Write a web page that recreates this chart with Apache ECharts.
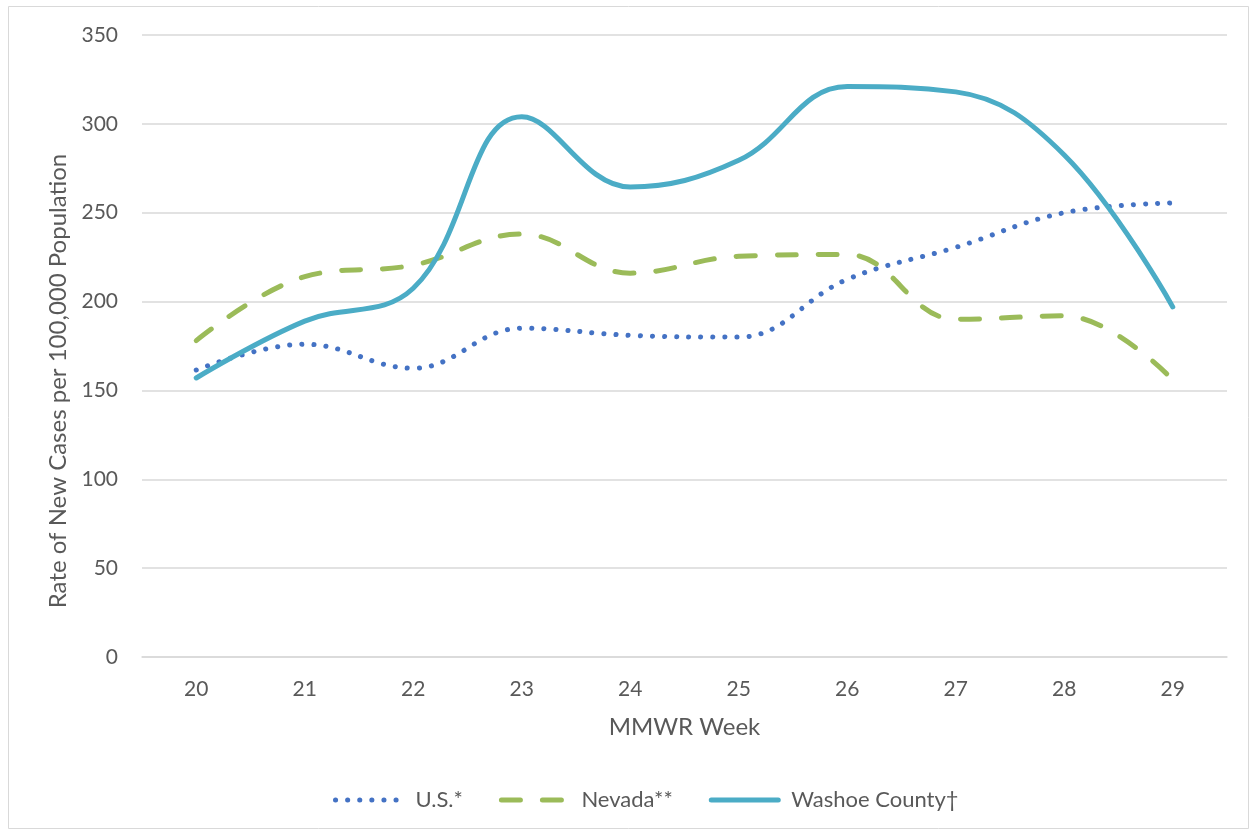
<!DOCTYPE html>
<html><head><meta charset="utf-8">
<script src="https://cdn.jsdelivr.net/npm/echarts@6/dist/echarts.min.js"></script>
<style>html,body{margin:0;padding:0;background:#fff}#c{width:1252px;height:833px}</style>
</head><body><div id="c"></div>
<script>
const weeks = ['20','21','22','23','24','25','26','27','28','29'];
const us = [161.5, 176, 162.5, 185, 181, 180, 212.5, 230.5, 250, 255.5];
const nevada = [178, 214, 220.5, 238, 216, 225.5, 226.5, 190, 192, 156];
const washoe = [157, 189, 207.5, 304, 264.5, 279.5, 321, 318, 282.5, 197];
const yTicks = [0, 50, 100, 150, 200, 250, 300, 350];

const chart = echarts.init(document.getElementById('c'));
const txt = '#595959';
const font = 'Lato';
chart.setOption({
  backgroundColor: '#fff',
  animation: false,
  graphic: [
    {type:'rect', shape:{x:8.5,y:6.5,width:1240,height:822}, style:{fill:'none', stroke:'#d9d9d9', lineWidth:1}},
    {type:'text', x:58, y:381, rotation:Math.PI/2, style:{text:'Rate of New Cases per 100,000 Population', fill:txt, font:'24px Lato', textAlign:'center', textVerticalAlign:'middle'}}
  ],
  grid: {left:142, right:25, top:35, bottom:176},
  legend: {
    top: 784, left: 328, itemWidth: 67, itemHeight: 14, itemGap: 36,
    itemStyle: {opacity: 0},
    lineStyle: {width: 5, cap: 'round'},
    textStyle: {color: txt, fontSize: 22, fontFamily: font, padding: [0, 0, 0, 8]},
    data: ['U.S.*','Nevada**','Washoe County†']
  },
  xAxis: {
    type:'category', data: weeks, boundaryGap:true,
    name:'MMWR Week', nameLocation:'middle', nameGap:58,
    nameTextStyle:{color:txt, fontSize:24, fontFamily:font},
    axisLine:{lineStyle:{color:'#d9d9d9', width:1.5}}, axisTick:{show:false},
    axisLabel:{color:txt, fontSize:21, fontFamily:font, margin:22}
  },
  yAxis: {
    type:'value', min:0, max:350, interval:50,
    axisLine:{show:false}, axisTick:{show:false},
    splitLine:{lineStyle:{color:'#d9d9d9', width:1.5}},
    axisLabel:{color:txt, fontSize:21, fontFamily:font, margin:24,
      formatter: v => yTicks.includes(v) ? String(v) : ''}
  },
  series: [
    {name:'U.S.*', type:'line', data: us, smooth:0.4, symbol:'none',
      itemStyle:{color:'#4472C4'},
      lineStyle:{color:'#4472C4', width:5, type:[0.1, 12], cap:'round'}},
    {name:'Nevada**', type:'line', data: nevada, smooth:0.4, symbol:'none',
      itemStyle:{color:'#9BBB59'},
      lineStyle:{color:'#9BBB59', width:5, type:[19, 22], cap:'round'}},
    {name:'Washoe County†', type:'line', data: washoe, smooth:0.4, symbol:'none',
      itemStyle:{color:'#4BACC6'},
      lineStyle:{color:'#4BACC6', width:5, cap:'round'}}
  ]
});
</script></body></html>
